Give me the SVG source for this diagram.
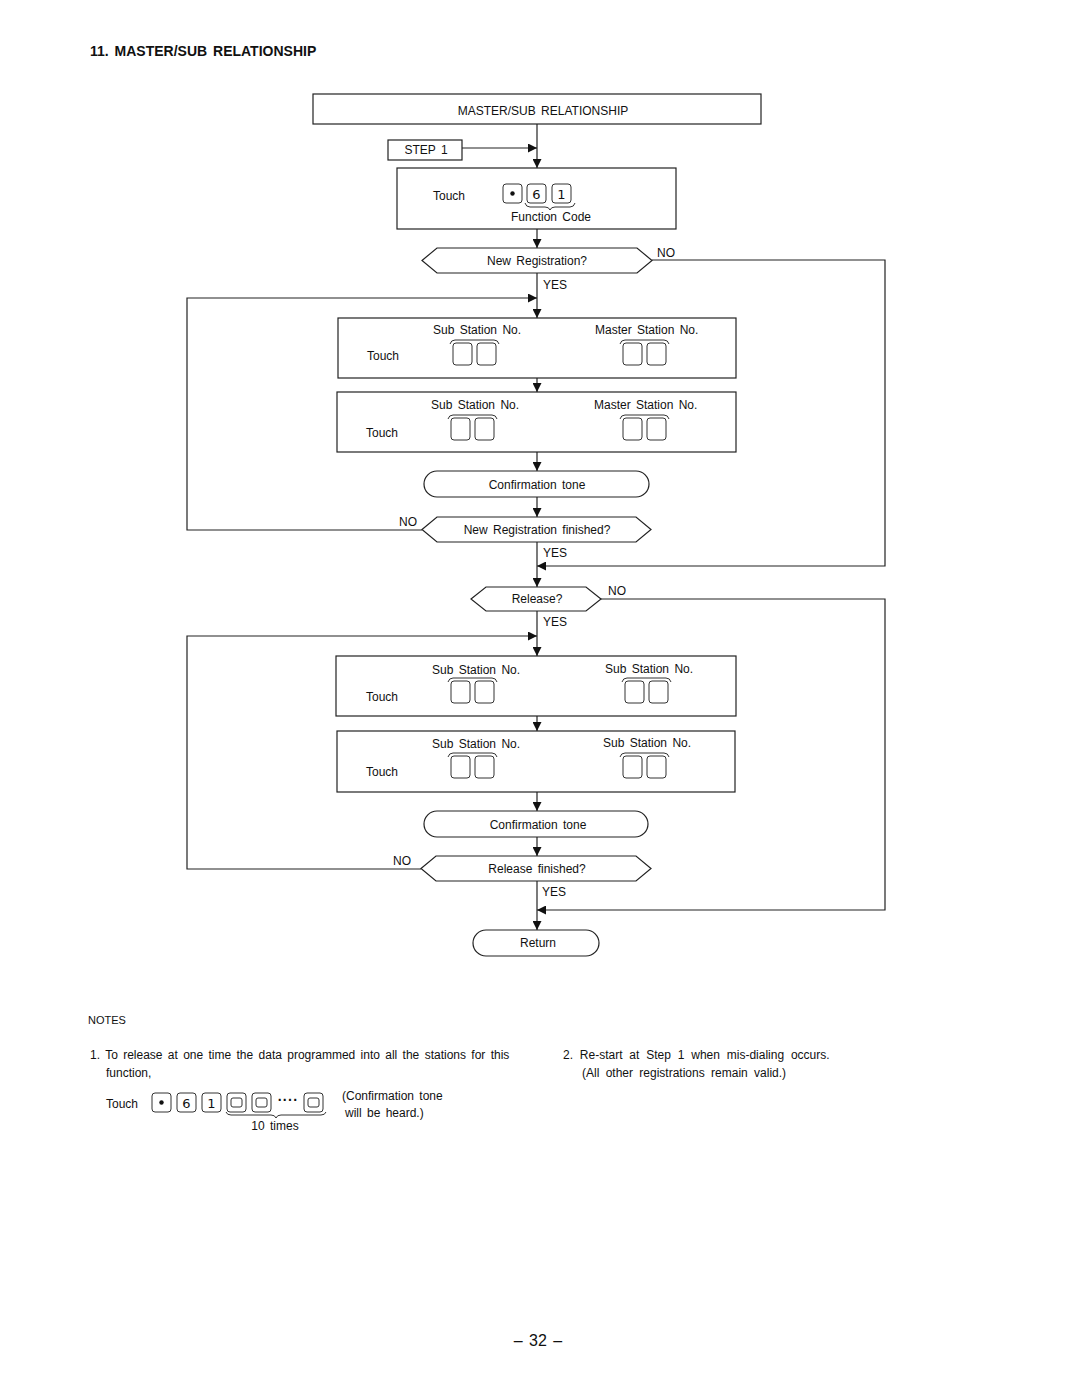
<svg xmlns="http://www.w3.org/2000/svg" width="1080" height="1397" viewBox="0 0 1080 1397">
<style>
  text { font-family: "Liberation Sans", Arial, sans-serif; fill: #111; font-size: 12px; word-spacing: 2px; }
  .c { text-anchor: middle; }
  .box { fill: none; stroke: #222; stroke-width: 1.2; }
  .key { fill: none; stroke: #333; stroke-width: 1; }
  .ln { fill: none; stroke: #222; stroke-width: 1.2; }
  .arr { fill: none; stroke: #222; stroke-width: 1.2; marker-end: url(#ah); }
  .brace { fill: none; stroke: #333; stroke-width: 1; }
  .dig { font-family: "DejaVu Sans", sans-serif; font-size: 13px; text-anchor: middle; }
</style>
<defs>
  <marker id="ah" viewBox="0 0 10 10" refX="10" refY="5" markerWidth="9" markerHeight="9" markerUnits="userSpaceOnUse" orient="auto">
    <path d="M0,0 L10,5 L0,10 z" fill="#111"/>
  </marker>
  <g id="pair">
    <rect x="0" y="0" width="19" height="22" rx="3" class="key"/>
    <rect x="24" y="0" width="19" height="22" rx="3" class="key"/>
    <path d="M-3,1 Q-2,-3 2,-3 L41,-3 Q45,-3 46,1" class="brace"/>
  </g>
</defs>

<rect width="1080" height="1397" fill="#fff"/>

<text x="90" y="56" style="font-weight:bold;font-size:14px;">11. MASTER/SUB  RELATIONSHIP</text>

<g id="connectors">
  <line x1="537" y1="124" x2="537" y2="168" class="arr"/>
  <line x1="462" y1="148" x2="537" y2="148" class="arr"/>
  <line x1="537" y1="229" x2="537" y2="248" class="arr"/>
  <line x1="537" y1="273" x2="537" y2="318" class="arr"/>
  <polyline points="652,260 885,260 885,566 537,566" class="arr"/>
  <polyline points="422,530 187,530 187,298 537,298" class="arr"/>
  <line x1="537" y1="378" x2="537" y2="392" class="arr"/>
  <line x1="537" y1="452" x2="537" y2="471" class="arr"/>
  <line x1="537" y1="497" x2="537" y2="517" class="arr"/>
  <line x1="537" y1="542" x2="537" y2="587" class="arr"/>
  <line x1="537" y1="611" x2="537" y2="656" class="arr"/>
  <polyline points="601,599 885,599 885,910 537,910" class="arr"/>
  <polyline points="421,869 187,869 187,636 537,636" class="arr"/>
  <line x1="537" y1="716" x2="537" y2="731" class="arr"/>
  <line x1="537" y1="792" x2="537" y2="811" class="arr"/>
  <line x1="537" y1="837" x2="537" y2="856" class="arr"/>
  <line x1="537" y1="881" x2="537" y2="930" class="arr"/>
  <text x="657" y="257">NO</text>
  <text x="543" y="289">YES</text>
  <text x="399" y="526">NO</text>
  <text x="543" y="557">YES</text>
  <text x="608" y="595">NO</text>
  <text x="543" y="626">YES</text>
  <text x="393" y="865">NO</text>
  <text x="542" y="896">YES</text>
</g>

<g id="header">
  <rect x="313" y="94" width="448" height="30" class="box"/>
  <text x="543" y="115" class="c">MASTER/SUB  RELATIONSHIP</text>
</g>

<g id="step1">
  <rect x="388" y="140" width="74" height="20" class="box"/>
  <text x="426" y="154" class="c">STEP  1</text>
</g>

<g id="touch-function">
  <rect x="397" y="168" width="279" height="61" class="box"/>
  <text x="433" y="200">Touch</text>
  <rect x="503" y="184" width="19" height="19" rx="3" class="key"/>
  <circle cx="512.5" cy="193.5" r="2.2" fill="#111"/>
  <rect x="527" y="184" width="19" height="19" rx="3" class="key"/>
  <text x="536.5" y="198.5" class="dig">6</text>
  <rect x="552" y="184" width="19" height="19" rx="3" class="key"/>
  <text x="561.5" y="198.5" class="dig">1</text>
  <path d="M525,203 Q526,207 530,207 L545,207 Q549,207 550,210 Q551,207 555,207 L570,207 Q574,207 575,203" class="brace"/>
  <text x="551" y="221" class="c">Function  Code</text>
</g>

<g id="new-registration">
  <polygon points="422,260.5 437,248 637,248 652,260.5 637,273 437,273" class="box"/>
  <text x="537" y="265" class="c">New  Registration?</text>
</g>

<g id="reg-box1">
  <rect x="338" y="318" width="398" height="60" class="box"/>
  <text x="433" y="334">Sub  Station  No.</text>
  <text x="595" y="334">Master  Station  No.</text>
  <text x="367" y="360">Touch</text>
  <use href="#pair" x="453" y="343"/>
  <use href="#pair" x="623" y="343"/>
</g>

<g id="reg-box2">
  <rect x="337" y="392" width="399" height="60" class="box"/>
  <text x="431" y="409">Sub  Station  No.</text>
  <text x="594" y="409">Master  Station  No.</text>
  <text x="366" y="437">Touch</text>
  <use href="#pair" x="451" y="418"/>
  <use href="#pair" x="623" y="418"/>
</g>

<g id="confirm1">
  <rect x="424" y="471" width="225" height="26" rx="13" class="box"/>
  <text x="537" y="489" class="c">Confirmation  tone</text>
</g>

<g id="new-registration-finished">
  <polygon points="422,529.5 437,517 636,517 651,529.5 636,542 437,542" class="box"/>
  <text x="537" y="534" class="c">New  Registration  finished?</text>
</g>

<g id="release">
  <polygon points="471,599 486,587 586,587 601,599 586,611 486,611" class="box"/>
  <text x="537" y="603" class="c">Release?</text>
</g>

<g id="rel-box1">
  <rect x="336" y="656" width="400" height="60" class="box"/>
  <text x="432" y="674">Sub  Station  No.</text>
  <text x="605" y="673">Sub  Station  No.</text>
  <text x="366" y="701">Touch</text>
  <use href="#pair" x="451" y="681"/>
  <use href="#pair" x="625" y="681"/>
</g>

<g id="rel-box2">
  <rect x="337" y="731" width="398" height="61" class="box"/>
  <text x="432" y="748">Sub  Station  No.</text>
  <text x="603" y="747">Sub  Station  No.</text>
  <text x="366" y="776">Touch</text>
  <use href="#pair" x="451" y="756"/>
  <use href="#pair" x="623" y="756"/>
</g>

<g id="confirm2">
  <rect x="424" y="811" width="224" height="26" rx="13" class="box"/>
  <text x="538" y="829" class="c">Confirmation  tone</text>
</g>

<g id="release-finished">
  <polygon points="421,868.5 436,856 636,856 651,868.5 636,881 436,881" class="box"/>
  <text x="537" y="873" class="c">Release  finished?</text>
</g>

<g id="return">
  <rect x="473" y="930" width="126" height="26" rx="13" class="box"/>
  <text x="538" y="947" class="c">Return</text>
</g>

<g id="notes">
  <text x="88" y="1024" style="font-size:11px">NOTES</text>
  <text x="90" y="1059">1.  To  release  at  one  time  the  data  programmed  into  all  the  stations  for  this</text>
  <text x="106" y="1077">function,</text>
  <text x="106" y="1108">Touch</text>
  <rect x="152" y="1093" width="19" height="19" rx="3" class="key"/>
  <circle cx="161.5" cy="1102.5" r="2.2" fill="#111"/>
  <rect x="177" y="1093" width="19" height="19" rx="3" class="key"/>
  <text x="186.5" y="1107.5" class="dig">6</text>
  <rect x="202" y="1093" width="19" height="19" rx="3" class="key"/>
  <text x="211.5" y="1107.5" class="dig">1</text>
  <rect x="227" y="1093" width="19" height="19" rx="3" class="key"/>
  <rect x="231" y="1098" width="11" height="9" rx="2" class="key"/>
  <rect x="252" y="1093" width="19" height="19" rx="3" class="key"/>
  <rect x="256" y="1098" width="11" height="9" rx="2" class="key"/>
  <text x="288" y="1105" class="c" style="font-size:14px;font-weight:bold;letter-spacing:0.5px">····</text>
  <rect x="304" y="1093" width="19" height="19" rx="3" class="key"/>
  <rect x="308" y="1098" width="11" height="9" rx="2" class="key"/>
  <path d="M226,1112 Q227,1115 231,1115 L271,1115 Q275,1115 276,1118 Q277,1115 281,1115 L321,1115 Q325,1115 326,1112" class="brace"/>
  <text x="275" y="1130" class="c">10  times</text>
  <text x="342" y="1100">(Confirmation  tone</text>
  <text x="345" y="1117">will  be  heard.)</text>
  <text x="563" y="1059" style="word-spacing:3.5px">2.  Re-start  at  Step  1  when  mis-dialing  occurs.</text>
  <text x="582" y="1077" style="word-spacing:3px">(All  other  registrations  remain  valid.)</text>
</g>

<text x="538" y="1346" class="c" style="font-size:16px">– 32 –</text>
</svg>
